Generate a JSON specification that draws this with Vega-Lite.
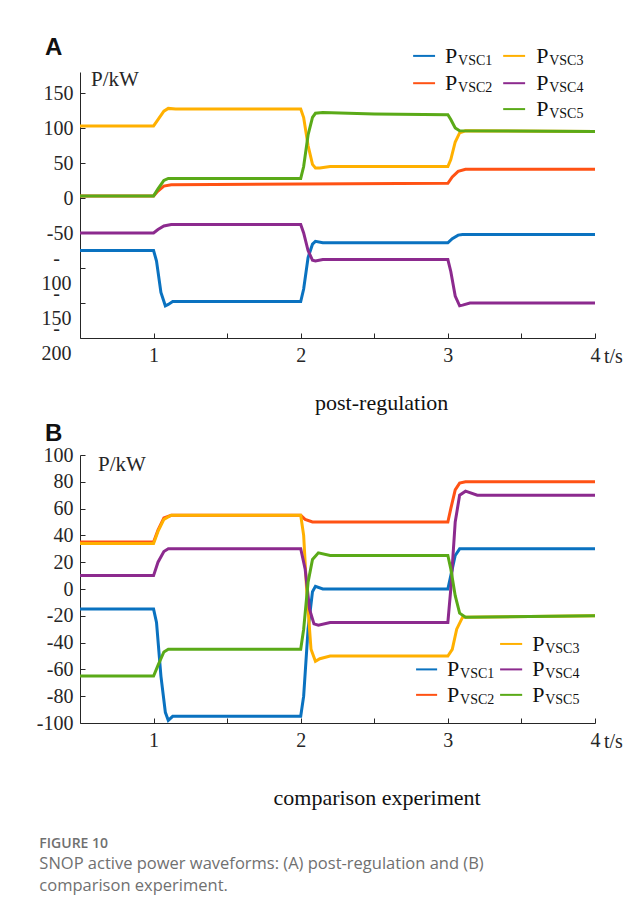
{
  "$schema": "https://vega.github.io/schema/vega-lite/v6.json",
  "background": "white",
  "autosize": {"type": "pad"},
  "padding": {"left": 36, "top": 36, "right": 0, "bottom": 20},
  "spacing": 6,
  "datasets": {
    "a": [
      {"t": 0.5, "p": -75, "s": "VSC1"}, {"t": 1.0, "p": -75, "s": "VSC1"}, {"t": 1.02, "p": -90, "s": "VSC1"}, {"t": 1.05, "p": -135, "s": "VSC1"}, {"t": 1.08, "p": -154, "s": "VSC1"}, {"t": 1.1, "p": -152, "s": "VSC1"}, {"t": 1.13, "p": -148, "s": "VSC1"}, {"t": 2.0, "p": -148, "s": "VSC1"}, {"t": 2.02, "p": -130, "s": "VSC1"}, {"t": 2.05, "p": -85, "s": "VSC1"}, {"t": 2.08, "p": -66, "s": "VSC1"}, {"t": 2.1, "p": -62, "s": "VSC1"}, {"t": 2.15, "p": -64, "s": "VSC1"}, {"t": 3.0, "p": -64, "s": "VSC1"}, {"t": 3.03, "p": -58, "s": "VSC1"}, {"t": 3.07, "p": -53, "s": "VSC1"}, {"t": 3.1, "p": -52, "s": "VSC1"}, {"t": 4.0, "p": -52, "s": "VSC1"},
      {"t": 0.5, "p": 3, "s": "VSC2"}, {"t": 1.0, "p": 3, "s": "VSC2"}, {"t": 1.03, "p": 10, "s": "VSC2"}, {"t": 1.07, "p": 17, "s": "VSC2"}, {"t": 1.12, "p": 19, "s": "VSC2"}, {"t": 2.0, "p": 20, "s": "VSC2"}, {"t": 3.0, "p": 21, "s": "VSC2"}, {"t": 3.03, "p": 30, "s": "VSC2"}, {"t": 3.07, "p": 38, "s": "VSC2"}, {"t": 3.12, "p": 41, "s": "VSC2"}, {"t": 4.0, "p": 41, "s": "VSC2"},
      {"t": 0.5, "p": 103, "s": "VSC3"}, {"t": 1.0, "p": 103, "s": "VSC3"}, {"t": 1.03, "p": 112, "s": "VSC3"}, {"t": 1.07, "p": 124, "s": "VSC3"}, {"t": 1.1, "p": 128, "s": "VSC3"}, {"t": 1.15, "p": 127, "s": "VSC3"}, {"t": 2.0, "p": 127, "s": "VSC3"}, {"t": 2.02, "p": 115, "s": "VSC3"}, {"t": 2.05, "p": 75, "s": "VSC3"}, {"t": 2.08, "p": 48, "s": "VSC3"}, {"t": 2.1, "p": 43, "s": "VSC3"}, {"t": 2.13, "p": 43, "s": "VSC3"}, {"t": 2.2, "p": 45, "s": "VSC3"}, {"t": 3.0, "p": 45, "s": "VSC3"}, {"t": 3.02, "p": 55, "s": "VSC3"}, {"t": 3.05, "p": 80, "s": "VSC3"}, {"t": 3.08, "p": 93, "s": "VSC3"}, {"t": 3.12, "p": 96, "s": "VSC3"}, {"t": 4.0, "p": 95, "s": "VSC3"},
      {"t": 0.5, "p": -50, "s": "VSC4"}, {"t": 1.0, "p": -50, "s": "VSC4"}, {"t": 1.03, "p": -45, "s": "VSC4"}, {"t": 1.07, "p": -40, "s": "VSC4"}, {"t": 1.12, "p": -38, "s": "VSC4"}, {"t": 2.0, "p": -38, "s": "VSC4"}, {"t": 2.02, "p": -50, "s": "VSC4"}, {"t": 2.05, "p": -75, "s": "VSC4"}, {"t": 2.08, "p": -89, "s": "VSC4"}, {"t": 2.1, "p": -90, "s": "VSC4"}, {"t": 2.15, "p": -88, "s": "VSC4"}, {"t": 3.0, "p": -88, "s": "VSC4"}, {"t": 3.02, "p": -105, "s": "VSC4"}, {"t": 3.05, "p": -140, "s": "VSC4"}, {"t": 3.08, "p": -154, "s": "VSC4"}, {"t": 3.1, "p": -153, "s": "VSC4"}, {"t": 3.15, "p": -150, "s": "VSC4"}, {"t": 4.0, "p": -150, "s": "VSC4"},
      {"t": 0.5, "p": 3, "s": "VSC5"}, {"t": 1.0, "p": 3, "s": "VSC5"}, {"t": 1.03, "p": 13, "s": "VSC5"}, {"t": 1.07, "p": 25, "s": "VSC5"}, {"t": 1.1, "p": 28, "s": "VSC5"}, {"t": 2.0, "p": 28, "s": "VSC5"}, {"t": 2.02, "p": 45, "s": "VSC5"}, {"t": 2.05, "p": 90, "s": "VSC5"}, {"t": 2.08, "p": 115, "s": "VSC5"}, {"t": 2.1, "p": 121, "s": "VSC5"}, {"t": 2.15, "p": 122, "s": "VSC5"}, {"t": 2.5, "p": 120, "s": "VSC5"}, {"t": 3.0, "p": 119, "s": "VSC5"}, {"t": 3.02, "p": 112, "s": "VSC5"}, {"t": 3.05, "p": 100, "s": "VSC5"}, {"t": 3.08, "p": 96, "s": "VSC5"}, {"t": 4.0, "p": 95, "s": "VSC5"}
    ],
    "b": [
      {"t": 0.5, "p": -15, "s": "VSC1"}, {"t": 1.0, "p": -15, "s": "VSC1"}, {"t": 1.02, "p": -25, "s": "VSC1"}, {"t": 1.05, "p": -65, "s": "VSC1"}, {"t": 1.08, "p": -92, "s": "VSC1"}, {"t": 1.1, "p": -98, "s": "VSC1"}, {"t": 1.13, "p": -95, "s": "VSC1"}, {"t": 2.0, "p": -95, "s": "VSC1"}, {"t": 2.02, "p": -80, "s": "VSC1"}, {"t": 2.05, "p": -30, "s": "VSC1"}, {"t": 2.08, "p": -2, "s": "VSC1"}, {"t": 2.1, "p": 2, "s": "VSC1"}, {"t": 2.15, "p": 0, "s": "VSC1"}, {"t": 3.0, "p": 0, "s": "VSC1"}, {"t": 3.02, "p": 10, "s": "VSC1"}, {"t": 3.05, "p": 25, "s": "VSC1"}, {"t": 3.08, "p": 30, "s": "VSC1"}, {"t": 4.0, "p": 30, "s": "VSC1"},
      {"t": 0.5, "p": 35, "s": "VSC2"}, {"t": 1.0, "p": 35, "s": "VSC2"}, {"t": 1.03, "p": 44, "s": "VSC2"}, {"t": 1.07, "p": 53, "s": "VSC2"}, {"t": 1.12, "p": 55, "s": "VSC2"}, {"t": 2.0, "p": 55, "s": "VSC2"}, {"t": 2.03, "p": 52, "s": "VSC2"}, {"t": 2.08, "p": 50, "s": "VSC2"}, {"t": 3.0, "p": 50, "s": "VSC2"}, {"t": 3.02, "p": 60, "s": "VSC2"}, {"t": 3.05, "p": 74, "s": "VSC2"}, {"t": 3.08, "p": 79, "s": "VSC2"}, {"t": 3.12, "p": 80, "s": "VSC2"}, {"t": 4.0, "p": 80, "s": "VSC2"},
      {"t": 0.5, "p": 34, "s": "VSC3"}, {"t": 1.0, "p": 34, "s": "VSC3"}, {"t": 1.03, "p": 43, "s": "VSC3"}, {"t": 1.07, "p": 52, "s": "VSC3"}, {"t": 1.12, "p": 55, "s": "VSC3"}, {"t": 2.0, "p": 55, "s": "VSC3"}, {"t": 2.02, "p": 40, "s": "VSC3"}, {"t": 2.04, "p": 0, "s": "VSC3"}, {"t": 2.07, "p": -45, "s": "VSC3"}, {"t": 2.1, "p": -54, "s": "VSC3"}, {"t": 2.13, "p": -52, "s": "VSC3"}, {"t": 2.2, "p": -50, "s": "VSC3"}, {"t": 3.0, "p": -50, "s": "VSC3"}, {"t": 3.03, "p": -45, "s": "VSC3"}, {"t": 3.06, "p": -30, "s": "VSC3"}, {"t": 3.1, "p": -21, "s": "VSC3"}, {"t": 4.0, "p": -20, "s": "VSC3"},
      {"t": 0.5, "p": 10, "s": "VSC4"}, {"t": 1.0, "p": 10, "s": "VSC4"}, {"t": 1.03, "p": 20, "s": "VSC4"}, {"t": 1.07, "p": 28, "s": "VSC4"}, {"t": 1.1, "p": 30, "s": "VSC4"}, {"t": 2.0, "p": 30, "s": "VSC4"}, {"t": 2.03, "p": 15, "s": "VSC4"}, {"t": 2.06, "p": -15, "s": "VSC4"}, {"t": 2.09, "p": -26, "s": "VSC4"}, {"t": 2.12, "p": -27, "s": "VSC4"}, {"t": 2.2, "p": -25, "s": "VSC4"}, {"t": 3.0, "p": -25, "s": "VSC4"}, {"t": 3.02, "p": 0, "s": "VSC4"}, {"t": 3.05, "p": 50, "s": "VSC4"}, {"t": 3.08, "p": 70, "s": "VSC4"}, {"t": 3.12, "p": 73, "s": "VSC4"}, {"t": 3.2, "p": 70, "s": "VSC4"}, {"t": 4.0, "p": 70, "s": "VSC4"},
      {"t": 0.5, "p": -65, "s": "VSC5"}, {"t": 1.0, "p": -65, "s": "VSC5"}, {"t": 1.03, "p": -57, "s": "VSC5"}, {"t": 1.07, "p": -47, "s": "VSC5"}, {"t": 1.1, "p": -45, "s": "VSC5"}, {"t": 2.0, "p": -45, "s": "VSC5"}, {"t": 2.02, "p": -30, "s": "VSC5"}, {"t": 2.05, "p": 5, "s": "VSC5"}, {"t": 2.08, "p": 22, "s": "VSC5"}, {"t": 2.12, "p": 27, "s": "VSC5"}, {"t": 2.2, "p": 25, "s": "VSC5"}, {"t": 3.0, "p": 25, "s": "VSC5"}, {"t": 3.02, "p": 15, "s": "VSC5"}, {"t": 3.05, "p": -5, "s": "VSC5"}, {"t": 3.08, "p": -18, "s": "VSC5"}, {"t": 3.12, "p": -21, "s": "VSC5"}, {"t": 4.0, "p": -20, "s": "VSC5"}
    ]
  },
  "vconcat": [
    {
      "width": 515,
      "height": 266,
      "layer": [
        {
          "data": {"name": "a"},
          "mark": {"type": "line", "strokeWidth": 3},
          "encoding": {
            "x": {"field": "t", "type": "quantitative", "scale": {"domain": [0.5, 4], "nice": false, "zero": false},
              "axis": {"title": null, "values": [1, 1.5, 2, 2.5, 3, 3.5, 4], "tickCount": 20, "labelExpr": "datum.value % 1 == 0 ? format(datum.value, 'd') : ''", "tickSize": -5, "labelPadding": 12, "labelOverlap": false}},
            "y": {"field": "p", "type": "quantitative", "scale": {"domain": [-200, 180], "nice": false, "zero": false},
              "axis": {"title": null, "values": [150, 100, 50, 0, -50, -100, -150, -200], "tickCount": 20, "tickSize": -5, "labelOverlap": false, "labelLineHeight": 25,
                "labelAlign": {"condition": {"test": "datum.value <= -100", "value": "center"}, "value": "right"},
                "labelPadding": {"condition": {"test": "datum.value <= -100", "value": 29}, "value": 12},
                "labelOffset": {"condition": {"test": "datum.value <= -100", "value": -10}, "value": 0},
                "labelExpr": "datum.value <= -100 ? ['-', format(-datum.value, 'd')] : (datum.value < 0 ? '-' + format(-datum.value, 'd') : format(datum.value, 'd'))"}},
            "color": {"field": "s", "type": "nominal", "legend": null,
              "scale": {"domain": ["VSC1", "VSC2", "VSC3", "VSC4", "VSC5"], "range": ["#0a72c0", "#ff5214", "#ffb000", "#8c2a8e", "#5aaa18"]}},
            "detail": {"field": "s"}
          }
        },
        {"data": {"values": [{}]}, "mark": {"type": "text", "font": "Liberation Sans", "fontWeight": "bold", "fontSize": 24, "align": "left", "baseline": "middle"},
          "encoding": {"x": {"datum": 0.262}, "y": {"datum": 214}, "text": {"value": "A"}}},
        {"data": {"values": [{}]}, "mark": {"type": "text", "fontSize": 21, "align": "left", "baseline": "middle", "color": "#262626"},
          "encoding": {"x": {"datum": 0.575}, "y": {"datum": 168}, "text": {"value": "P/kW"}}},
        {"data": {"values": [{}]}, "mark": {"type": "text", "fontSize": 20, "align": "left", "baseline": "top", "dx": 9, "dy": 9, "color": "#262626"},
          "encoding": {"x": {"datum": 4}, "y": {"datum": -200}, "text": {"value": "t/s"}}},
        {"data": {"values": [{}]}, "mark": {"type": "text", "fontSize": 22, "align": "center", "baseline": "middle", "color": "#111111"},
          "encoding": {"x": {"datum": 2.55}, "y": {"datum": -293}, "text": {"value": "post-regulation"}}},

        {"data": {"values": [{}]}, "mark": {"type": "rule", "strokeWidth": 2, "color": "#0a72c0"}, "encoding": {"x": {"datum": 2.764}, "x2": {"datum": 2.913}, "y": {"datum": 203}}},
        {"data": {"values": [{}]}, "mark": {"type": "text", "fontSize": 22, "align": "left", "baseline": "middle"}, "encoding": {"x": {"datum": 2.981}, "y": {"datum": 203}, "text": {"value": "P"}}},
        {"data": {"values": [{}]}, "mark": {"type": "text", "fontSize": 14, "align": "left", "baseline": "middle", "dx": 13, "dy": 5}, "encoding": {"x": {"datum": 2.981}, "y": {"datum": 203}, "text": {"value": "VSC1"}}},

        {"data": {"values": [{}]}, "mark": {"type": "rule", "strokeWidth": 2, "color": "#ff5214"}, "encoding": {"x": {"datum": 2.764}, "x2": {"datum": 2.913}, "y": {"datum": 164}}},
        {"data": {"values": [{}]}, "mark": {"type": "text", "fontSize": 22, "align": "left", "baseline": "middle"}, "encoding": {"x": {"datum": 2.981}, "y": {"datum": 164}, "text": {"value": "P"}}},
        {"data": {"values": [{}]}, "mark": {"type": "text", "fontSize": 14, "align": "left", "baseline": "middle", "dx": 13, "dy": 5}, "encoding": {"x": {"datum": 2.981}, "y": {"datum": 164}, "text": {"value": "VSC2"}}},

        {"data": {"values": [{}]}, "mark": {"type": "rule", "strokeWidth": 2, "color": "#ffb000"}, "encoding": {"x": {"datum": 3.376}, "x2": {"datum": 3.525}, "y": {"datum": 203}}},
        {"data": {"values": [{}]}, "mark": {"type": "text", "fontSize": 22, "align": "left", "baseline": "middle"}, "encoding": {"x": {"datum": 3.6}, "y": {"datum": 203}, "text": {"value": "P"}}},
        {"data": {"values": [{}]}, "mark": {"type": "text", "fontSize": 14, "align": "left", "baseline": "middle", "dx": 13, "dy": 5}, "encoding": {"x": {"datum": 3.6}, "y": {"datum": 203}, "text": {"value": "VSC3"}}},

        {"data": {"values": [{}]}, "mark": {"type": "rule", "strokeWidth": 2, "color": "#8c2a8e"}, "encoding": {"x": {"datum": 3.376}, "x2": {"datum": 3.525}, "y": {"datum": 164}}},
        {"data": {"values": [{}]}, "mark": {"type": "text", "fontSize": 22, "align": "left", "baseline": "middle"}, "encoding": {"x": {"datum": 3.6}, "y": {"datum": 164}, "text": {"value": "P"}}},
        {"data": {"values": [{}]}, "mark": {"type": "text", "fontSize": 14, "align": "left", "baseline": "middle", "dx": 13, "dy": 5}, "encoding": {"x": {"datum": 3.6}, "y": {"datum": 164}, "text": {"value": "VSC4"}}},

        {"data": {"values": [{}]}, "mark": {"type": "rule", "strokeWidth": 2, "color": "#5aaa18"}, "encoding": {"x": {"datum": 3.376}, "x2": {"datum": 3.525}, "y": {"datum": 127}}},
        {"data": {"values": [{}]}, "mark": {"type": "text", "fontSize": 22, "align": "left", "baseline": "middle"}, "encoding": {"x": {"datum": 3.6}, "y": {"datum": 127}, "text": {"value": "P"}}},
        {"data": {"values": [{}]}, "mark": {"type": "text", "fontSize": 14, "align": "left", "baseline": "middle", "dx": 13, "dy": 5}, "encoding": {"x": {"datum": 3.6}, "y": {"datum": 127}, "text": {"value": "VSC5"}}}
      ]
    },
    {
      "width": 515,
      "height": 268,
      "layer": [
        {
          "data": {"name": "b"},
          "mark": {"type": "line", "strokeWidth": 3},
          "encoding": {
            "x": {"field": "t", "type": "quantitative", "scale": {"domain": [0.5, 4], "nice": false, "zero": false},
              "axis": {"title": null, "values": [1, 1.5, 2, 2.5, 3, 3.5, 4], "tickCount": 20, "labelExpr": "datum.value % 1 == 0 ? format(datum.value, 'd') : ''", "tickSize": -5, "labelPadding": 12, "labelOverlap": false}},
            "y": {"field": "p", "type": "quantitative", "scale": {"domain": [-100, 100], "nice": false, "zero": false},
              "axis": {"title": null, "values": [100, 80, 60, 40, 20, 0, -20, -40, -60, -80, -100], "tickCount": 20, "tickSize": -5, "labelPadding": 12, "labelOverlap": false,
                "labelExpr": "datum.value < 0 ? '-' + format(-datum.value, 'd') : format(datum.value, 'd')"}},
            "color": {"field": "s", "type": "nominal", "legend": null,
              "scale": {"domain": ["VSC1", "VSC2", "VSC3", "VSC4", "VSC5"], "range": ["#0a72c0", "#ff5214", "#ffb000", "#8c2a8e", "#5aaa18"]}},
            "detail": {"field": "s"}
          }
        },
        {"data": {"values": [{}]}, "mark": {"type": "text", "font": "Liberation Sans", "fontWeight": "bold", "fontSize": 24, "align": "left", "baseline": "middle"},
          "encoding": {"x": {"datum": 0.262}, "y": {"datum": 116}, "text": {"value": "B"}}},
        {"data": {"values": [{}]}, "mark": {"type": "text", "fontSize": 21, "align": "left", "baseline": "middle", "color": "#262626"},
          "encoding": {"x": {"datum": 0.622}, "y": {"datum": 92.5}, "text": {"value": "P/kW"}}},
        {"data": {"values": [{}]}, "mark": {"type": "text", "fontSize": 20, "align": "left", "baseline": "top", "dx": 9, "dy": 9, "color": "#262626"},
          "encoding": {"x": {"datum": 4}, "y": {"datum": -100}, "text": {"value": "t/s"}}},
        {"data": {"values": [{}]}, "mark": {"type": "text", "fontSize": 22, "align": "center", "baseline": "middle", "color": "#111111"},
          "encoding": {"x": {"datum": 2.519}, "y": {"datum": -156}, "text": {"value": "comparison experiment"}}},

        {"data": {"values": [{}]}, "mark": {"type": "rule", "strokeWidth": 2, "color": "#ffb000"}, "encoding": {"x": {"datum": 3.355}, "x2": {"datum": 3.505}, "y": {"datum": -41}}},
        {"data": {"values": [{}]}, "mark": {"type": "text", "fontSize": 22, "align": "left", "baseline": "middle"}, "encoding": {"x": {"datum": 3.573}, "y": {"datum": -41}, "text": {"value": "P"}}},
        {"data": {"values": [{}]}, "mark": {"type": "text", "fontSize": 14, "align": "left", "baseline": "middle", "dx": 13, "dy": 5}, "encoding": {"x": {"datum": 3.573}, "y": {"datum": -41}, "text": {"value": "VSC3"}}},

        {"data": {"values": [{}]}, "mark": {"type": "rule", "strokeWidth": 2, "color": "#0a72c0"}, "encoding": {"x": {"datum": 2.784}, "x2": {"datum": 2.927}, "y": {"datum": -60}}},
        {"data": {"values": [{}]}, "mark": {"type": "text", "fontSize": 22, "align": "left", "baseline": "middle"}, "encoding": {"x": {"datum": 2.995}, "y": {"datum": -60}, "text": {"value": "P"}}},
        {"data": {"values": [{}]}, "mark": {"type": "text", "fontSize": 14, "align": "left", "baseline": "middle", "dx": 13, "dy": 5}, "encoding": {"x": {"datum": 2.995}, "y": {"datum": -60}, "text": {"value": "VSC1"}}},

        {"data": {"values": [{}]}, "mark": {"type": "rule", "strokeWidth": 2, "color": "#8c2a8e"}, "encoding": {"x": {"datum": 3.355}, "x2": {"datum": 3.505}, "y": {"datum": -60}}},
        {"data": {"values": [{}]}, "mark": {"type": "text", "fontSize": 22, "align": "left", "baseline": "middle"}, "encoding": {"x": {"datum": 3.573}, "y": {"datum": -60}, "text": {"value": "P"}}},
        {"data": {"values": [{}]}, "mark": {"type": "text", "fontSize": 14, "align": "left", "baseline": "middle", "dx": 13, "dy": 5}, "encoding": {"x": {"datum": 3.573}, "y": {"datum": -60}, "text": {"value": "VSC4"}}},

        {"data": {"values": [{}]}, "mark": {"type": "rule", "strokeWidth": 2, "color": "#ff5214"}, "encoding": {"x": {"datum": 2.784}, "x2": {"datum": 2.927}, "y": {"datum": -79}}},
        {"data": {"values": [{}]}, "mark": {"type": "text", "fontSize": 22, "align": "left", "baseline": "middle"}, "encoding": {"x": {"datum": 2.995}, "y": {"datum": -79}, "text": {"value": "P"}}},
        {"data": {"values": [{}]}, "mark": {"type": "text", "fontSize": 14, "align": "left", "baseline": "middle", "dx": 13, "dy": 5}, "encoding": {"x": {"datum": 2.995}, "y": {"datum": -79}, "text": {"value": "VSC2"}}},

        {"data": {"values": [{}]}, "mark": {"type": "rule", "strokeWidth": 2, "color": "#5aaa18"}, "encoding": {"x": {"datum": 3.355}, "x2": {"datum": 3.505}, "y": {"datum": -79}}},
        {"data": {"values": [{}]}, "mark": {"type": "text", "fontSize": 22, "align": "left", "baseline": "middle"}, "encoding": {"x": {"datum": 3.573}, "y": {"datum": -79}, "text": {"value": "P"}}},
        {"data": {"values": [{}]}, "mark": {"type": "text", "fontSize": 14, "align": "left", "baseline": "middle", "dx": 13, "dy": 5}, "encoding": {"x": {"datum": 3.573}, "y": {"datum": -79}, "text": {"value": "VSC5"}}}
      ]
    }
  ],
  "title": {
    "text": "FIGURE 10",
    "subtitle": ["SNOP active power waveforms: (A) post-regulation and (B)", "comparison experiment."],
    "orient": "bottom",
    "anchor": "start",
    "frame": "bounds",
    "offset": 28,
    "dx": 3,
    "font": "Open Sans",
    "fontSize": 14,
    "fontWeight": 600,
    "color": "#707070",
    "subtitleFont": "Open Sans",
    "subtitleFontSize": 16.5,
    "subtitleColor": "#707070",
    "subtitlePadding": 5,
    "subtitleLineHeight": 22
  },
  "config": {
    "view": {"stroke": null},
    "axis": {"grid": false, "domainColor": "#262626", "domainWidth": 1, "tickColor": "#262626", "tickWidth": 1,
      "labelFont": "Liberation Serif", "labelFontSize": 20, "labelColor": "#262626", "labelOverlap": false, "labelFlush": false},
    "text": {"font": "Liberation Serif", "color": "#111111"}
  }
}
